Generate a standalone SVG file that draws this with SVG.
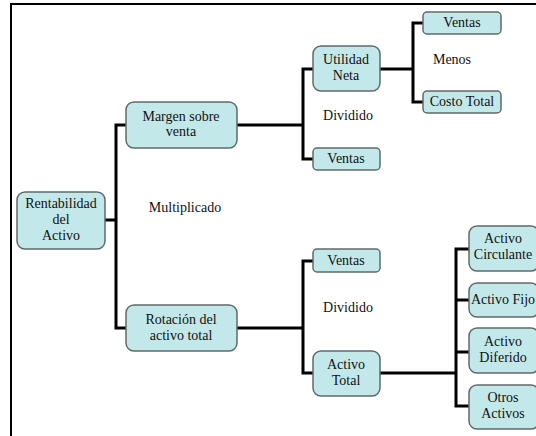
<svg xmlns="http://www.w3.org/2000/svg" width="536" height="436" viewBox="0 0 536 436">
<style>
.n rect{fill:#c3e8ea;stroke:#5f6a6a;stroke-width:1.5}
.c{fill:none;stroke:#000;stroke-width:3}
</style>
<rect x="0" y="0" width="536" height="436" fill="#fff"/>
<path d="M11 437V4H540" fill="none" stroke="#000" stroke-width="2"/>
<g id="connectors">
<path class="c" d="M105 220H116M126 125H116V328H126"/>
<path class="c" d="M237 125H303M313 69H303V159H313"/>
<path class="c" d="M380 69H413M423 23H413V102H423"/>
<path class="c" d="M237 328H303M313 261H303V373H313"/>
<path class="c" d="M380 373H456M469 249H456V406H469M456 300H469M456 352H469"/>
</g>
<g id="rentabilidad" class="n"><rect x="17" y="192" width="88" height="57" rx="8"/><text x="61" y="208" font-family="Liberation Serif" font-size="14" fill="#111" text-anchor="middle">Rentabilidad</text><text x="61" y="224" font-family="Liberation Serif" font-size="14" fill="#111" text-anchor="middle">del</text><text x="61" y="240" font-family="Liberation Serif" font-size="14" fill="#111" text-anchor="middle">Activo</text></g>
<g id="margen" class="n"><rect x="126" y="102" width="111" height="46" rx="8"/><text x="181" y="121" font-family="Liberation Serif" font-size="14" fill="#111" text-anchor="middle">Margen sobre</text><text x="181" y="136" font-family="Liberation Serif" font-size="14" fill="#111" text-anchor="middle">venta</text></g>
<g id="rotacion" class="n"><rect x="126" y="305" width="111" height="46" rx="8"/><text x="181" y="324" font-family="Liberation Serif" font-size="14" fill="#111" text-anchor="middle">Rotación del</text><text x="181" y="340" font-family="Liberation Serif" font-size="14" fill="#111" text-anchor="middle">activo total</text></g>
<g id="utilidad" class="n"><rect x="313" y="46" width="67" height="45" rx="8"/><text x="346" y="64" font-family="Liberation Serif" font-size="14" fill="#111" text-anchor="middle">Utilidad</text><text x="346" y="80" font-family="Liberation Serif" font-size="14" fill="#111" text-anchor="middle">Neta</text></g>
<g id="ventas1" class="n"><rect x="313" y="148" width="67" height="22" rx="4"/><text x="346" y="163" font-family="Liberation Serif" font-size="14" fill="#111" text-anchor="middle">Ventas</text></g>
<g id="ventas0" class="n"><rect x="423" y="12" width="78" height="22" rx="4"/><text x="462" y="27" font-family="Liberation Serif" font-size="14" fill="#111" text-anchor="middle">Ventas</text></g>
<g id="costo" class="n"><rect x="423" y="91" width="78" height="22" rx="4"/><text x="462" y="106" font-family="Liberation Serif" font-size="14" fill="#111" text-anchor="middle">Costo Total</text></g>
<g id="ventas2" class="n"><rect x="313" y="249" width="67" height="23" rx="4"/><text x="346" y="265" font-family="Liberation Serif" font-size="14" fill="#111" text-anchor="middle">Ventas</text></g>
<g id="activototal" class="n"><rect x="313" y="351" width="67" height="45" rx="8"/><text x="346" y="369" font-family="Liberation Serif" font-size="14" fill="#111" text-anchor="middle">Activo</text><text x="346" y="385" font-family="Liberation Serif" font-size="14" fill="#111" text-anchor="middle">Total</text></g>
<g id="circulante" class="n"><rect x="469" y="226" width="70" height="45" rx="8"/><text x="503" y="243" font-family="Liberation Serif" font-size="14" fill="#111" text-anchor="middle">Activo</text><text x="503" y="259" font-family="Liberation Serif" font-size="14" fill="#111" text-anchor="middle">Circulante</text></g>
<g id="fijo" class="n"><rect x="469" y="283" width="70" height="34" rx="8"/><text x="503" y="304" font-family="Liberation Serif" font-size="14" fill="#111" text-anchor="middle">Activo Fijo</text></g>
<g id="diferido" class="n"><rect x="469" y="328" width="70" height="45" rx="8"/><text x="503" y="346" font-family="Liberation Serif" font-size="14" fill="#111" text-anchor="middle">Activo</text><text x="503" y="362" font-family="Liberation Serif" font-size="14" fill="#111" text-anchor="middle">Diferido</text></g>
<g id="otros" class="n"><rect x="469" y="385" width="70" height="44" rx="8"/><text x="503" y="402" font-family="Liberation Serif" font-size="14" fill="#111" text-anchor="middle">Otros</text><text x="503" y="418" font-family="Liberation Serif" font-size="14" fill="#111" text-anchor="middle">Activos</text></g>
<text x="185" y="212" font-family="Liberation Serif" font-size="14" fill="#111" text-anchor="middle">Multiplicado</text>
<text x="348" y="120" font-family="Liberation Serif" font-size="14" fill="#111" text-anchor="middle">Dividido</text>
<text x="348" y="312" font-family="Liberation Serif" font-size="14" fill="#111" text-anchor="middle">Dividido</text>
<text x="452" y="64" font-family="Liberation Serif" font-size="14" fill="#111" text-anchor="middle">Menos</text>
</svg>
